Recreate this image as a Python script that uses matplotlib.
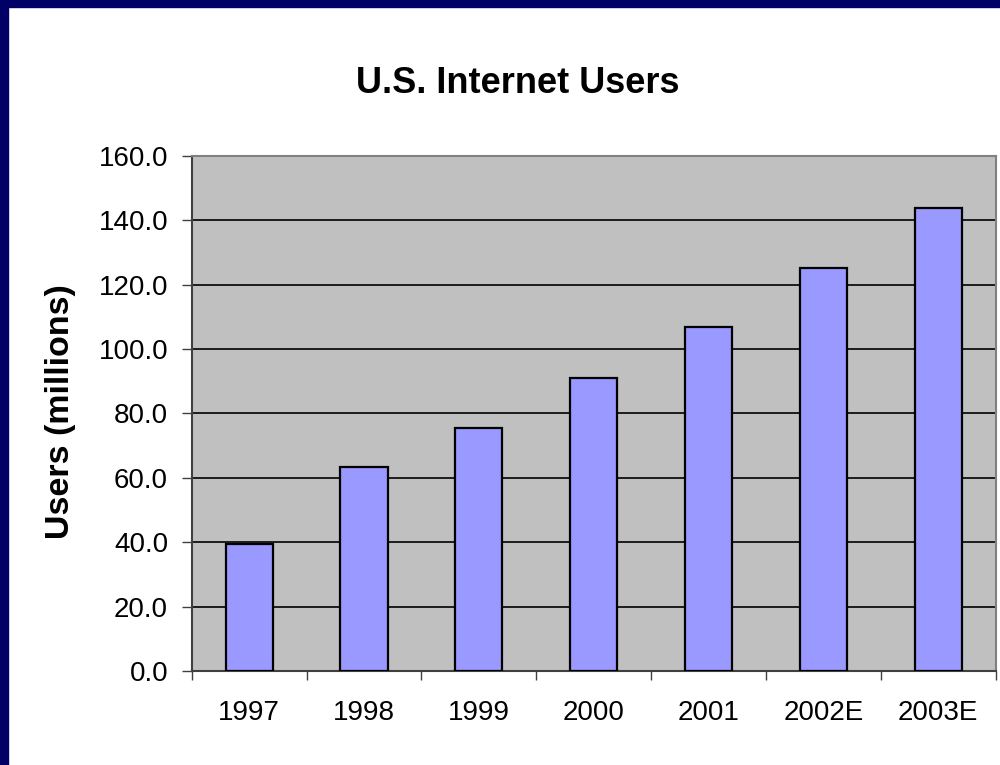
import matplotlib.pyplot as plt
from matplotlib.patches import Rectangle

# data
years = ['1997', '1998', '1999', '2000', '2001', '2002E', '2003E']
users = [39.3, 63.4, 75.6, 90.9, 106.9, 125.2, 143.8]
yticks = [0, 20, 40, 60, 80, 100, 120, 140, 160]

plt.rcParams['font.family'] = ['Liberation Sans', 'DejaVu Sans']

fig = plt.figure(figsize=(10, 7.65), dpi=100)
# navy frame on left and top
fig.patches.append(Rectangle((0, 0), 8 / 1000, 1, transform=fig.transFigure,
                             color='#000066', zorder=0))
fig.patches.append(Rectangle((0, 1 - 7 / 765), 1, 7 / 765, transform=fig.transFigure,
                             color='#000066', zorder=0))

ax = fig.add_axes([191.7 / 1000, 1 - 671 / 765, (995.7 - 191.7) / 1000, (671 - 155.7) / 765])
ax.set_facecolor('#C0C0C0')

x = range(len(years))
ax.bar(x, users, width=0.41, color='#9999FF', edgecolor='black', linewidth=1.6, zorder=3)

ax.set_xlim(-0.5, len(years) - 0.5)
ax.set_ylim(0, 160)
ax.set_yticks(yticks)
ax.set_yticklabels(['%.1f' % v for v in yticks], fontsize=20)
ax.yaxis.grid(True, color='black', linewidth=1.2, zorder=1)
ax.set_axisbelow(True)

ax.set_xticks(list(x))
ax.set_xticklabels(years, fontsize=20)
ax.tick_params(axis='x', length=0, pad=21)
ax.set_xticks([i - 0.5 for i in range(len(years) + 1)], minor=True)
ax.tick_params(axis='x', which='minor', length=6.5, width=1, color='#404040')
ax.tick_params(axis='y', length=7, width=1, color='#404040', pad=10)

for s in ['top', 'right']:
    ax.spines[s].set_color('#808080')
    ax.spines[s].set_linewidth(1.5)
for s in ['left', 'bottom']:
    ax.spines[s].set_color('#404040')
    ax.spines[s].set_linewidth(1.5)

ax.set_ylabel('Users (millions)', fontsize=24.5, fontweight='bold')
ax.yaxis.set_label_coords(76 / 1000, 1 - 412 / 765, transform=fig.transFigure)
fig.text(0.5177, 1 - 93 / 765, 'U.S. Internet Users', fontsize=26, fontweight='bold',
         ha='center', va='baseline')

fig.savefig('out.png', dpi=100)
